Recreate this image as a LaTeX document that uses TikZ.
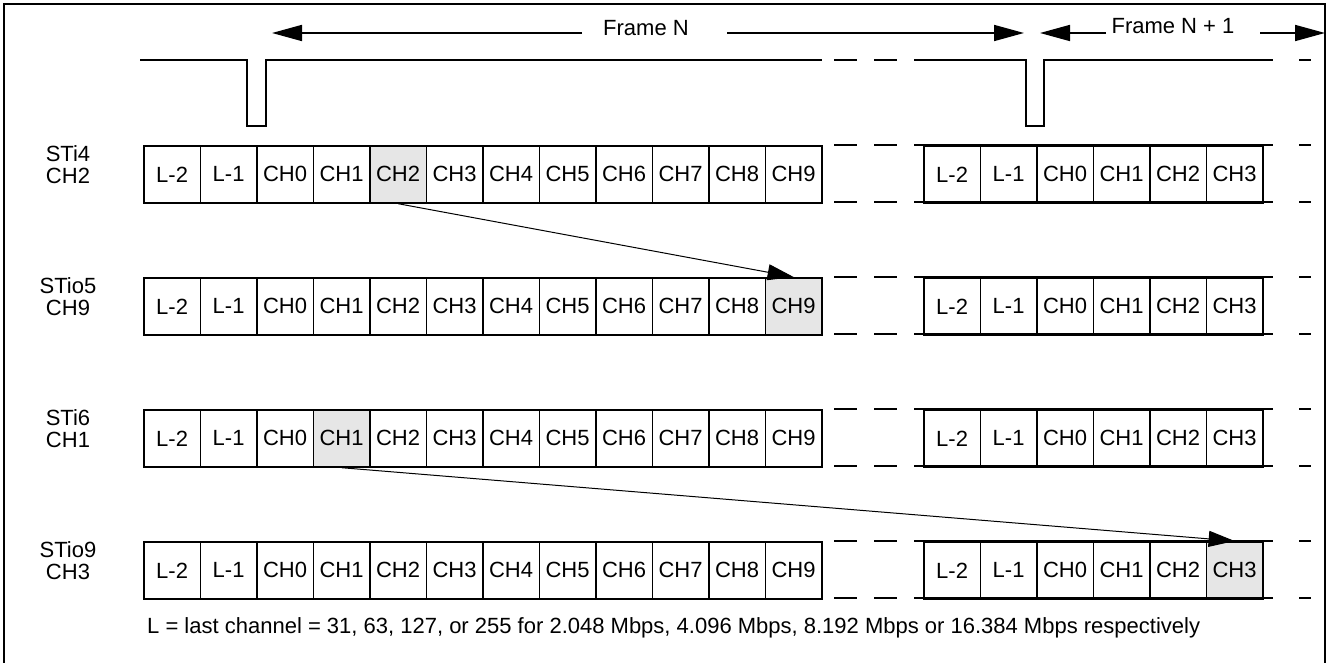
\documentclass[tikz,border=0pt]{standalone}
\usepackage{fontspec}
\setmainfont{Liberation Sans}
\usetikzlibrary{arrows.meta}
\definecolor{shade}{RGB}{230,230,230}
\begin{document}
\begin{tikzpicture}[x=1pt,y=-1pt,
  txt/.style={font=\fontsize{22}{24}\selectfont, inner sep=0pt},
  cell/.style={draw, line width=1.7pt, minimum width=56.5pt, minimum height=57pt,
    inner sep=0pt, anchor=north west, font=\fontsize{22}{24}\selectfont},
  wire/.style={line width=1.7pt},
  bigarrow/.style={line width=1.7pt, -{Triangle[length=30pt,width=16pt]}},
  linkarrow/.style={line width=1pt, -{Triangle[length=26pt,width=16pt]}},
  rowlabel/.style={font=\fontsize{22}{22}\selectfont, align=center, inner sep=0pt},
  sh/a1-4/.style={fill=shade},
  sh/a2-11/.style={fill=shade},
  sh/a3-3/.style={fill=shade},
  sh/b4-5/.style={fill=shade}]
\useasboundingbox (0,0) rectangle (1327,663);
% outer frame (open at the bottom)
\draw[line width=2.5pt] (4,663) -- (4,4) -- (1325,4) -- (1325,663);

% frame arrows
\node[txt] (fn) at (646,28) {Frame N};
\node[txt] (fn1) at (1173,26) {Frame N + 1};
\coordinate (fnl) at (582,33);
\coordinate (fnlt) at (272,33);
\coordinate (fnr) at (727,33);
\coordinate (fnrt) at (1024,33);
\coordinate (fmlt) at (1040,33);
\coordinate (fml) at (1106,33);
\coordinate (fmr) at (1260,33);
\coordinate (fmrt) at (1325,33);
\draw[bigarrow] (fnl) -- (fnlt);
\draw[bigarrow] (fnr) -- (fnrt);
\draw[bigarrow] (fml) -- (fmlt);
\draw[bigarrow] (fmr) -- (fmrt);

% frame pulse signal
\draw[wire] (140,60) -- (247,60) -- (247,126) -- (266,126) -- (266,60) -- (822,60);
\draw[wire] (914,60) -- (1026,60) -- (1026,126) -- (1044,126) -- (1044,60) -- (1273,60);
\draw[wire] (834,60) -- (857,60) (874,60) -- (897,60) (1299,60) -- (1311,60);

% rows
\foreach \r/\yt/\la/\lb in {1/145/STi4/CH2, 2/277/STio5/CH9, 3/409/STi6/CH1, 4/541/STio9/CH3} {
  \node[rowlabel] (lab\r) at (68,\yt+20) {\la\\\lb};
  \foreach \t [count=\i from 0] in {L-2,L-1,CH0,CH1,CH2,CH3,CH4,CH5,CH6,CH7,CH8,CH9}
    \node[cell, sh/a\r-\i/.try] (a\r-\i) at ({143+56.5*\i},\yt) {\t};
  \foreach \t [count=\i from 0] in {L-2,L-1,CH0,CH1,CH2,CH3}
    \node[cell, sh/b\r-\i/.try] (b\r-\i) at ({923+56.5*\i},\yt) {\t};
  \draw[wire] (914,\yt) -- (1273,\yt) (914,\yt+57) -- (1273,\yt+57);
  \draw[wire] (834,\yt) -- (857,\yt) (874,\yt) -- (897,\yt) (1299,\yt) -- (1311,\yt);
  \draw[wire] (834,\yt+57) -- (857,\yt+57) (874,\yt+57) -- (897,\yt+57) (1299,\yt+57) -- (1311,\yt+57);
}

% switching arrows
\draw[linkarrow] (a1-4.south) -- (a2-11.north);
\draw[linkarrow] (a3-3.south) -- (b4-5.north);

% footnote
\node[txt, anchor=base west] (note) at (147,633) {L = last channel = 31, 63, 127, or 255 for 2.048 Mbps, 4.096 Mbps, 8.192 Mbps or 16.384 Mbps respectively};
\end{tikzpicture}
\end{document}
